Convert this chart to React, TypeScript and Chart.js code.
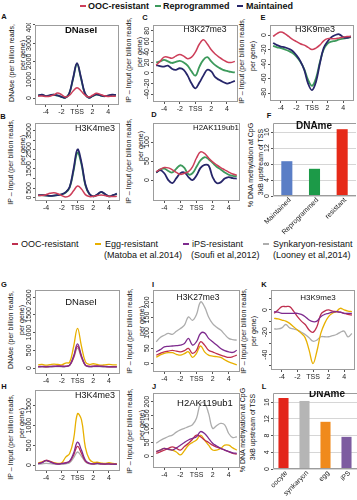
import React, { useEffect, useRef } from 'react';
import { Chart, registerables } from 'chart.js';

Chart.register(...registerables);

const FONT = '"Liberation Sans", Arial, Helvetica, sans-serif';
Chart.defaults.font.family = FONT;

// ---------- data ----------
const xKb = [-5, -4.5, -4, -3.5, -3, -2.5, -2, -1.5, -1, -0.5, 0, 0.5, 1, 1.5, 2, 2.5, 3, 3.5, 4, 4.5, 5];
const xTickValues = [-4, -2, 0, 2, 4];

// top row colours
const C_OOC_TOP = '#cd3f5a';
const C_REPRO = '#3d9a5c';
const C_MAINT = '#27266a';
// bottom row colours
const C_OOC = '#be2f4f';
const C_EGG = '#e8b000';
const C_IPS = '#7e2b8e';
const C_SYNK = '#adadad';

// A DNaseI
const aOOC = [100, 110, 90, 100, 170, 270, 190, 60, 140, 380, 560, 400, 170, 60, 150, 260, 200, 120, 90, 100, 100];
const aRepro = [140, 170, 100, 140, 180, 130, 65, 20, 240, 1050, 1850, 1100, 270, 20, 100, 190, 140, 95, 125, 170, 165];
const aMaint = [150, 180, 110, 150, 190, 140, 70, 20, 250, 1100, 1900, 1150, 280, 20, 110, 200, 150, 100, 130, 180, 170];
// B H3K4me3
const bOOC = [100, 110, 150, 220, 250, 200, 100, 30, 100, 350, 600, 450, 150, 50, 60, 100, 130, 100, 60, 50, 60];
const bRepro = [110, 120, 100, 85, 95, 120, 160, 260, 520, 1400, 2360, 1750, 650, 180, 60, 140, 280, 170, 60, 110, 190];
const bMaint = [120, 130, 110, 90, 100, 130, 170, 280, 550, 1500, 2530, 1850, 700, 200, 60, 150, 300, 180, 60, 120, 200];
// C H3K27me3
const cOOC = [15, 22, 30, 30, 28, 32, 35, 32, 27, 30, 40, 55, 63, 55, 44, 36, 30, 25, 21, 20, 22];
const cRepro = [20, 22, 25, 22, 19, 21, 23, 20, 14, 3, -5, 12, 25, 30, 22, 15, 10, 6, 4, 2, 1];
const cMaint = [15, 13, 12, 14, 8, 6, 9, 6, -5, -20, -29, -18, -5, 6, 3, -8, -13, -17, -20, -18, -15];
// D H2AK119ub1
const dOOC = [22, 28, 33, 32, 27, 20, 15, 18, 22, 35, 58, 74, 70, 58, 48, 40, 33, 27, 21, 16, 13];
const dRepro = [20, 28, 30, 24, 20, 30, 39, 32, 15, 18, 35, 52, 60, 55, 45, 35, 28, 20, 14, 11, 10];
const dMaint = [20, 26, 18, 0, -8, 5, 18, 20, 8, 0, 12, 32, 40, 38, 8, -8, -6, 4, 8, 5, 4];
// E H3K9me3
const eOOC = [-2, 2, 4, 2, -2, -6, -9, -12, -14, -17, -20, -18, -14, -8, -5, -5, -5, -4, -3, -2, -2];
const eRepro = [-15, -17, -18, -20, -22, -25, -30, -37, -47, -62, -70, -60, -38, -20, -12, -9, -8, -6, -5, -4, -3];
const eMaint = [-11, -14, -16, -17, -19, -22, -28, -36, -48, -67, -76, -65, -40, -18, -9, -3, 0, 1, -3, -4, -2];
// F DNAme
const fLabels = ['Maintained', 'Reprogrammed', 'resistant'];
const fValues = [8.7, 6.8, 16.7];
const fColors = ['#5a7ec6', '#1c9a48', '#e62a18'];

// G DNaseI
const gOOC = [40, 45, 40, 45, 50, 60, 55, 50, 80, 300, 620, 320, 80, 50, 55, 60, 50, 45, 40, 40, 40];
const gEgg = [90, 100, 80, 95, 110, 100, 90, 140, 160, 600, 1120, 620, 180, 100, 120, 100, 80, 90, 100, 90, 90];
const gIPS = [35, 40, 35, 40, 45, 50, 45, 45, 80, 330, 680, 350, 80, 40, 45, 50, 45, 40, 35, 35, 35];
const gSynk = [25, 30, 25, 30, 35, 40, 35, 40, 70, 280, 560, 290, 70, 35, 40, 40, 35, 30, 25, 25, 25];
// H H3K4me3
const hOOC = [40, 70, 120, 90, 50, 30, 40, 60, 90, 250, 475, 300, 100, 40, 30, 40, 30, 25, 30, 20, 20];
const hEgg = [50, 80, 110, 90, 60, 40, 60, 200, 290, 650, 1300, 1150, 450, 150, 70, 70, 50, 40, 60, 40, 30];
const hIPS = [30, 60, 110, 80, 40, 25, 35, 50, 100, 300, 580, 380, 120, 40, 30, 40, 30, 25, 30, 20, 20];
const hSynk = [20, 30, 40, 35, 25, 20, 25, 30, 60, 180, 330, 220, 80, 30, 20, 25, 20, 15, 20, 15, 15];
// I H3K27me3
const iOOC = [27, 33, 38, 40, 43, 40, 38, 42, 49, 33, 43, 71, 60, 43, 38, 32, 27, 23, 20, 22, 27];
const iEgg = [20, 28, 33, 35, 35, 30, 27, 32, 38, 20, 33, 57, 38, 27, 24, 22, 20, 12, 5, 0, -5];
const iIPS = [38, 45, 54, 56, 57, 58, 60, 65, 82, 60, 71, 98, 100, 82, 71, 60, 49, 42, 38, 36, 43];
const iSynk = [71, 85, 92, 98, 95, 105, 114, 125, 152, 141, 160, 201, 185, 152, 130, 118, 109, 95, 82, 78, 76];
// J H2AK119ub1
const jOOC = [10, 15, 22, 28, 34, 28, 22, 35, 47, 62, 77, 71, 59, 50, 40, 33, 28, 22, 16, 10, 7];
const jEgg = [16, 22, 28, 25, 22, 15, 4, 20, 40, 50, 59, 77, 59, 40, 22, 22, 28, 40, 40, 30, 22];
const jIPS = [16, 22, 28, 25, 22, 30, 40, 50, 59, 65, 71, 90, 83, 65, 47, 37, 28, 22, 16, 12, 10];
const jSynk = [47, 57, 65, 72, 77, 88, 96, 102, 108, 115, 139, 194, 194, 157, 102, 112, 120, 115, 83, 68, 71];
// K H3K9me3
const kOOC = [-3, 0, 3, 3, 3, -1, -6, -10, -13, -18, -20, -15, -4, -1, 0, -1, -1.5, -2, -3, -4, -4.5];
const kEgg = [-7.5, -8, -9, -10, -12, -15, -18, -21, -25, -36, -48, -37, -21, -12, -6, -3, -1.5, 1.5, 0, -1, -1.5];
const kIPS = [-1.5, -2, -3, -3, -3, -3, -3, -4, -6, -9, -10.5, -10, -6, -4, -3, -2, -1.5, -2, -3, -3, -3];
const kSynk = [-17, -17, -16, -13, -16, -17, -18, -20, -22, -25, -28, -27, -24, -24, -24, -23, -22, -20, -19, -24, -21];
// L DNAme
const lLabels = ['oocyte', 'synkaryon', 'egg', 'iPS'];
const lValues = [17.0, 16.3, 11.3, 7.7];
const lColors = ['#e3261b', '#b5b5b5', '#f08a1c', '#7d5ca0'];
const barTicks = [0, 4, 8, 12, 16];

// ---------- components ----------
type Box = { l: number; t: number; r: number; b: number };
type Series = { data: number[]; color: string; width: number };

function range(a: number, b: number, s: number) {
  const out: number[] = [];
  for (let v = a; v <= b + 1e-9; v += s) out.push(v);
  return out;
}

function LinePanel(p: {
  box: Box; yMin: number; yMax: number; yTicks: number[]; yLabels: number[];
  title: string; titleX: number; titleY: number; titleFont: string; series: Series[];
}) {
  const ref = useRef<HTMLCanvasElement>(null);
  const { box } = p;
  const left = box.l - 14, top = box.t - 2;
  const width = box.r + 2 - left, height = box.b + 14 - top;
  useEffect(() => {
    const deco = {
      id: 'deco',
      afterDraw(chart: any) {
        const { ctx, chartArea: ca } = chart;
        const ys = chart.scales.y;
        ctx.save();
        ctx.strokeStyle = '#9c9c9c';
        ctx.lineWidth = 1;
        ctx.strokeRect(ca.left + 0.5, ca.top + 0.5, ca.right - ca.left - 1, ca.bottom - ca.top - 1);
        ctx.fillStyle = '#222';
        ctx.font = `7px ${FONT}`;
        ctx.textAlign = 'center';
        ctx.textBaseline = 'middle';
        p.yLabels.forEach((v) => {
          const y = ys.getPixelForValue(v);
          ctx.save();
          ctx.translate(ca.left - 6, y);
          ctx.rotate(-Math.PI / 2);
          ctx.fillText(String(v), 0, 0);
          ctx.restore();
        });
        ctx.font = p.titleFont;
        ctx.fillStyle = '#111';
        ctx.fillText(p.title, p.titleX - left, p.titleY - top);
        ctx.restore();
      },
    };
    const chart = new Chart(ref.current as HTMLCanvasElement, {
      type: 'line',
      data: {
        datasets: p.series.map((s) => ({
          data: xKb.map((x, i) => ({ x, y: s.data[i] })),
          borderColor: s.color,
          borderWidth: s.width,
          pointRadius: 0,
          tension: 0.4,
          fill: false,
        })),
      },
      options: {
        animation: false,
        responsive: false,
        maintainAspectRatio: false,
        layout: { padding: { left: 0, top: box.t - top, right: left + width - box.r, bottom: 0 } },
        plugins: { legend: { display: false }, tooltip: { enabled: false } },
        scales: {
          x: {
            type: 'linear',
            min: -5.4,
            max: 5.4,
            afterBuildTicks: (s: any) => { s.ticks = xTickValues.map((v) => ({ value: v })); },
            afterFit: (s: any) => { s.height = top + height - box.b; s.paddingLeft = 0; s.paddingRight = 0; },
            ticks: {
              callback: (v: any) => (Number(v) === 0 ? 'TSS' : String(v)),
              font: { size: 7 },
              color: '#222',
              padding: 1,
              maxRotation: 0,
              autoSkip: false,
            },
            grid: { drawOnChartArea: false, drawTicks: true, tickLength: 2, color: '#555' },
            border: { display: false },
          },
          y: {
            type: 'linear',
            min: p.yMin,
            max: p.yMax,
            afterBuildTicks: (s: any) => { s.ticks = p.yTicks.map((v) => ({ value: v })); },
            afterFit: (s: any) => { s.width = box.l - left; s.paddingTop = 0; s.paddingBottom = 0; },
            ticks: { display: false },
            grid: { drawOnChartArea: false, drawTicks: true, tickLength: 2, color: '#555' },
            border: { display: false },
          },
        },
      } as any,
      plugins: [deco],
    });
    return () => chart.destroy();
  }, []);
  return <canvas ref={ref} width={width} height={height} style={{ position: 'absolute', left, top, width, height }} />;
}

function BarPanel(p: {
  box: Box; yMax: number; labels: string[]; values: number[]; colors: string[]; barPct: number;
  title: string; titleX: number; titleY: number;
}) {
  const ref = useRef<HTMLCanvasElement>(null);
  const { box } = p;
  const left = box.l - 14, top = box.t - 2;
  const width = 357 - left, height = box.b + 50 - top;
  useEffect(() => {
    const deco = {
      id: 'deco',
      afterDraw(chart: any) {
        const { ctx, chartArea: ca } = chart;
        const ys = chart.scales.y;
        const xs = chart.scales.x;
        ctx.save();
        ctx.strokeStyle = '#9c9c9c';
        ctx.lineWidth = 1;
        ctx.beginPath();
        ctx.moveTo(ca.right, ca.top + 0.5);
        ctx.lineTo(ca.left + 0.5, ca.top + 0.5);
        ctx.lineTo(ca.left + 0.5, ca.bottom - 0.5);
        ctx.lineTo(ca.right, ca.bottom - 0.5);
        ctx.stroke();
        ctx.fillStyle = '#222';
        ctx.font = `7px ${FONT}`;
        ctx.textAlign = 'center';
        ctx.textBaseline = 'middle';
        barTicks.forEach((v) => {
          const y = ys.getPixelForValue(v);
          ctx.save();
          ctx.translate(ca.left - 6, y);
          ctx.rotate(-Math.PI / 2);
          ctx.fillText(String(v), 0, 0);
          ctx.restore();
        });
        ctx.textAlign = 'right';
        p.labels.forEach((lab, i) => {
          const x = xs.getPixelForValue(i);
          ctx.save();
          ctx.translate(x + 3, ca.bottom + 3);
          ctx.rotate(-Math.PI / 4);
          ctx.fillText(lab, 0, 0);
          ctx.restore();
        });
        ctx.textAlign = 'center';
        ctx.font = `bold 10px ${FONT}`;
        ctx.fillStyle = '#111';
        ctx.fillText(p.title, p.titleX - left, p.titleY - top);
        ctx.restore();
      },
    };
    const chart = new Chart(ref.current as HTMLCanvasElement, {
      type: 'bar',
      data: {
        labels: p.labels,
        datasets: [{
          data: p.values,
          backgroundColor: p.colors,
          borderWidth: 0,
          barPercentage: p.barPct,
          categoryPercentage: 1,
        }],
      },
      options: {
        animation: false,
        responsive: false,
        maintainAspectRatio: false,
        layout: { padding: { left: 0, top: box.t - top, right: left + width - box.r, bottom: 0 } },
        plugins: { legend: { display: false }, tooltip: { enabled: false } },
        scales: {
          x: {
            afterFit: (s: any) => { s.height = top + height - box.b; s.paddingLeft = 0; s.paddingRight = 0; },
            ticks: { display: false },
            grid: { display: false },
            border: { display: false },
          },
          y: {
            min: 0,
            max: p.yMax,
            afterBuildTicks: (s: any) => { s.ticks = barTicks.map((v) => ({ value: v })); },
            afterFit: (s: any) => { s.width = box.l - left; s.paddingTop = 0; s.paddingBottom = 0; },
            ticks: { display: false },
            grid: { color: '#d6d6d6', drawTicks: true, tickLength: 2, tickColor: '#555' },
            border: { display: false },
          },
        },
      } as any,
      plugins: [deco],
    });
    return () => chart.destroy();
  }, []);
  return <canvas ref={ref} width={width} height={height} style={{ position: 'absolute', left, top, width, height }} />;
}

function Txt(p: { x: number; y: number; text: string; size: number; bold?: boolean; rot?: boolean; center?: boolean }) {
  const transform = p.rot
    ? 'translate(-50%,-50%) rotate(-90deg)'
    : p.center ? 'translate(-50%,-50%)' : 'translate(0,-50%)';
  return (
    <div style={{
      position: 'absolute', left: p.x, top: p.y, transform, whiteSpace: 'nowrap',
      fontSize: p.size, fontWeight: p.bold ? 'bold' : 'normal', lineHeight: 1, color: '#111', fontFamily: FONT,
    }}>{p.text}</div>
  );
}

function Mark(p: { x: number; y: number; color: string }) {
  return <div style={{ position: 'absolute', left: p.x, top: p.y - 1, width: 6, height: 2, background: p.color }} />;
}

const IP = 'IP – Input (per billion reads,';
const DN = 'DNAse (per billion reads,';
const PG = 'per gene)';
const ME1 = '% DNA methylation at CpG';
const ME2 = '3kB upstream of TSS';

export default function App() {
  const topS = (o: number[], r: number[], m: number[]): Series[] => [
    { data: o, color: C_OOC_TOP, width: 1.5 },
    { data: m, color: C_MAINT, width: 1.8 },
    { data: r, color: C_REPRO, width: 1.8 },
  ];
  const botS = (o: number[], e: number[], i: number[], s: number[]): Series[] => [
    { data: i, color: C_IPS, width: 1.3 },
    { data: o, color: C_OOC, width: 1.3 },
    { data: e, color: C_EGG, width: 1.3 },
    { data: s, color: C_SYNK, width: 1.3 },
  ];
  return (
    <div style={{ position: 'absolute', left: 0, top: 0, width: 357, height: 500, background: '#fff', overflow: 'hidden', fontFamily: FONT }}>
      {/* top legend */}
      <Mark x={80} y={6} color={C_OOC_TOP} /><Txt x={88} y={6} text="OOC-resistant" size={9} bold />
      <Mark x={155} y={6} color={C_REPRO} /><Txt x={163} y={6} text="Reprogrammed" size={9} bold />
      <Mark x={237} y={6} color={C_MAINT} /><Txt x={246} y={6} text="Maintained" size={9} bold />

      {/* panel letters */}
      <Txt x={4} y={17} text="A" size={7.5} bold center />
      <Txt x={145} y={18} text="C" size={7.5} bold center />
      <Txt x={263} y={18} text="E" size={7.5} bold center />
      <Txt x={3} y={117} text="B" size={7.5} bold center />
      <Txt x={154} y={115} text="D" size={7.5} bold center />
      <Txt x={269} y={116} text="F" size={7.5} bold center />
      <Txt x={4} y={285} text="G" size={7.5} bold center />
      <Txt x={153} y={285} text="I" size={7.5} bold center />
      <Txt x={264} y={285} text="K" size={7.5} bold center />
      <Txt x={4} y={387} text="H" size={7.5} bold center />
      <Txt x={154} y={387} text="J" size={7.5} bold center />
      <Txt x={264} y={387} text="L" size={7.5} bold center />

      {/* y titles */}
      <Txt x={11} y={63} text={DN} size={7} rot /><Txt x={22} y={55} text={PG} size={7} rot />
      <Txt x={10} y={162} text={IP} size={7} rot /><Txt x={22} y={150} text={PG} size={7} rot />
      <Txt x={128} y={60} text={IP} size={7} rot /><Txt x={139} y={52} text={PG} size={7} rot />
      <Txt x={128} y={161} text={IP} size={7} rot /><Txt x={140} y={146} text={PG} size={7} rot />
      <Txt x={241} y={61} text={IP} size={7} rot /><Txt x={252} y={56} text={PG} size={7} rot />
      <Txt x={250} y={165} text={ME1} size={7} rot /><Txt x={260} y={162} text={ME2} size={7} rot />
      <Txt x={10} y={330} text={DN} size={7} rot /><Txt x={21} y={320} text={PG} size={7} rot />
      <Txt x={10} y={437} text={IP} size={7} rot /><Txt x={21} y={423} text={PG} size={7} rot />
      <Txt x={129} y={331} text={IP} size={7} rot /><Txt x={141} y={321} text={PG} size={7} rot />
      <Txt x={129} y={431} text={IP} size={7} rot /><Txt x={141} y={425} text={PG} size={7} rot />
      <Txt x={243} y={331} text={IP} size={7} rot /><Txt x={253} y={331} text={PG} size={7} rot />
      <Txt x={242} y={430} text={ME1} size={7} rot /><Txt x={252} y={427} text={ME2} size={7} rot />

      {/* bottom legend */}
      <Mark x={12} y={244} color={C_OOC} /><Txt x={21} y={244} text="OOC-resistant" size={9} />
      <Mark x={95} y={244} color={C_EGG} /><Txt x={105} y={244} text="Egg-resistant" size={9} />
      <Txt x={104} y={255} text="(Matoba et al.2014)" size={9} />
      <Mark x={183} y={244} color={C_IPS} /><Txt x={192} y={244} text="iPS-resistant" size={9} />
      <Txt x={191} y={255} text="(Soufi et al,2012)" size={9} />
      <Mark x={263} y={244} color={C_SYNK} /><Txt x={273} y={244} text="Synkaryon-resistant" size={9} />
      <Txt x={273} y={255} text="(Looney et al,2014)" size={9} />

      {/* top panels */}
      <LinePanel box={{ l: 35, t: 25, r: 119, b: 105 }} yMin={-380} yMax={3990} yTicks={range(0, 4000, 1000)} yLabels={[0, 1000, 2000, 3000, 4000]}
        title="DNaseI" titleX={81} titleY={30} titleFont={`bold 9.5px ${FONT}`} series={topS(aOOC, aRepro, aMaint)} />
      <LinePanel box={{ l: 35, t: 123, r: 120, b: 201 }} yMin={-184} yMax={3920} yTicks={range(0, 3500, 500)} yLabels={[0, 500, 1500, 2500, 3500]}
        title="H3K4me3" titleX={95} titleY={129} titleFont={`9px ${FONT}`} series={topS(bOOC, bRepro, bMaint)} />
      <LinePanel box={{ l: 153, t: 25, r: 238, b: 102 }} yMin={-55} yMax={91} yTicks={range(-40, 80, 20)} yLabels={[-40, -20, 0, 20, 40, 60, 80]}
        title="H3K27me3" titleX={205} titleY={30} titleFont={`8.6px ${FONT}`} series={topS(cOOC, cRepro, cMaint)} />
      <LinePanel box={{ l: 153, t: 123, r: 240, b: 201 }} yMin={-55} yMax={150} yTicks={[0, 50, 100]} yLabels={[0, 50, 100]}
        title="H2AK119ub1" titleX={216} titleY={128} titleFont={`7.8px ${FONT}`} series={topS(dOOC, dRepro, dMaint)} />
      <LinePanel box={{ l: 270, t: 25, r: 354, b: 101 }} yMin={-91} yMax={13.8} yTicks={[0, -20, -40, -60, -80]} yLabels={[0, -20, -40, -60, -80]}
        title="H3K9me3" titleX={315} titleY={30} titleFont={`9px ${FONT}`} series={topS(eOOC, eRepro, eMaint)} />
      <BarPanel box={{ l: 273, t: 123, r: 356, b: 196 }} yMax={18.25} labels={fLabels} values={fValues} colors={fColors} barPct={0.4}
        title="DNAme" titleX={314} titleY={126} />

      {/* bottom panels */}
      <LinePanel box={{ l: 35, t: 290, r: 120, b: 374 }} yMin={-169} yMax={2203} yTicks={range(0, 2000, 500)} yLabels={[0, 500, 1000, 1500, 2000]}
        title="DNaseI" titleX={81} titleY={302} titleFont={`9.5px ${FONT}`} series={botS(gOOC, gEgg, gIPS, gSynk)} />
      <LinePanel box={{ l: 35, t: 390, r: 120, b: 471 }} yMin={-152} yMax={1904} yTicks={range(0, 1500, 500)} yLabels={[0, 500, 1000, 1500]}
        title="H3K4me3" titleX={95} titleY={396} titleFont={`9px ${FONT}`} series={botS(hOOC, hEgg, hIPS, hSynk)} />
      <LinePanel box={{ l: 153, t: 290, r: 240, b: 372 }} yMin={-28} yMax={240} yTicks={range(0, 200, 50)} yLabels={[0, 50, 100, 150, 200]}
        title="H3K27me3" titleX={198} titleY={298} titleFont={`8.6px ${FONT}`} series={botS(iOOC, iEgg, iIPS, iSynk)} />
      <LinePanel box={{ l: 153, t: 393, r: 240, b: 468 }} yMin={-44} yMax={232} yTicks={range(0, 200, 50)} yLabels={[0, 50, 100, 150, 200]}
        title="H2AK119ub1" titleX={205} titleY={403} titleFont={`9.5px ${FONT}`} series={botS(jOOC, jEgg, jIPS, jSynk)} />
      <LinePanel box={{ l: 271, t: 290, r: 355, b: 370 }} yMin={-53.8} yMax={17.9} yTicks={range(-50, 10, 10)} yLabels={[0, -20, -40]}
        title="H3K9me3" titleX={318} titleY={298} titleFont={`8px ${FONT}`} series={botS(kOOC, kEgg, kIPS, kSynk)} />
      <BarPanel box={{ l: 273, t: 393, r: 357, b: 469 }} yMax={18.2} labels={lLabels} values={lValues} colors={lColors} barPct={0.48}
        title="DNAme" titleX={327} titleY={394} />
    </div>
  );
}
